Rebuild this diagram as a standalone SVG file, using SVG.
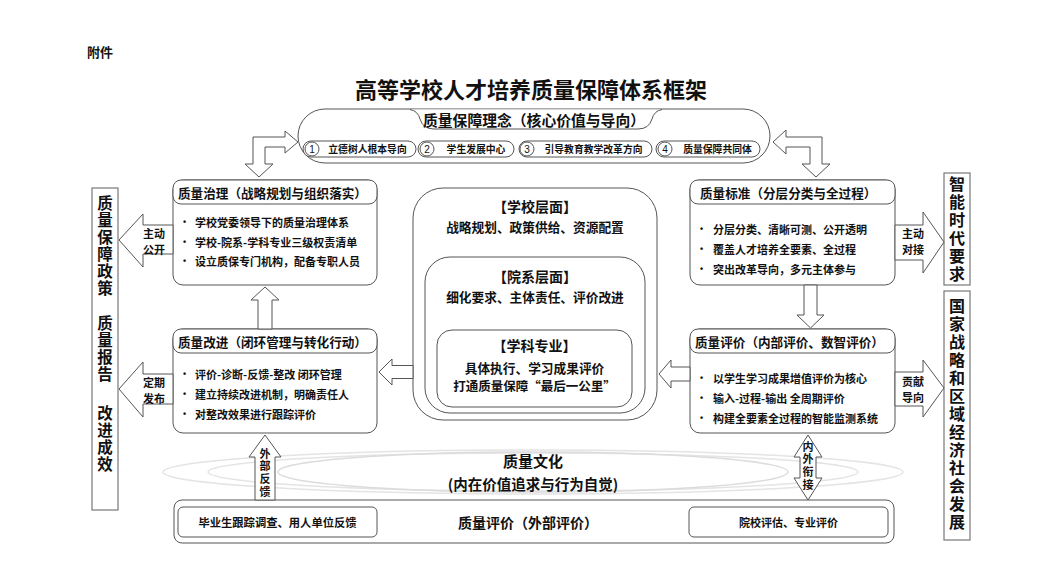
<svg xmlns="http://www.w3.org/2000/svg" width="1062" height="583" viewBox="0 0 1062 583">
<defs>
<style>
text{font-family:"Noto Sans CJK SC","Noto Sans",sans-serif;font-weight:bold;fill:#111;dominant-baseline:central}
.box{fill:#fff;stroke:#555;stroke-width:1}
.bar{fill:#fff;stroke:#777;stroke-width:1.2}
.arr{fill:#fff;stroke:#555;stroke-width:1;stroke-linejoin:miter}
.hd{font-size:12.6px}
.bl{font-size:11px}
.dot{font-family:"Liberation Sans",sans-serif;font-size:9px}
.lab{font-size:11px;text-anchor:middle}
.v{writing-mode:vertical-rl;text-orientation:upright;dominant-baseline:auto}
.vt{font-size:15.5px;letter-spacing:1.5px}
.vt2{font-size:16px}
.vl{font-size:11px;letter-spacing:1.8px}
.mid{text-anchor:middle}
.pill{fill:#fff;stroke:#555;stroke-width:1}
.num{font-family:"Liberation Sans",sans-serif;font-weight:normal;font-size:10px;text-anchor:middle}
.sp{font-size:9.8px;text-anchor:middle}
.ell{fill:none;stroke:#e4e4e4;stroke-width:1.5}
</style>
</defs>
<rect width="1062" height="583" fill="#fff"/>
<text x="87" y="51" style="font-size:13px">附件</text>
<text x="531" y="88" class="mid" style="font-size:22px">高等学校人才培养质量保障体系框架</text>

<g id="concept">
<rect x="298" y="109" width="472" height="54" rx="27" class="pill"/>
<path d="M410,109.5 Q418,111 420,119 Q423,129 434,129 L638,129 Q649,129 652,119 Q654,111 662,109.5" class="pill"/>
<text x="534" y="119" class="mid" style="font-size:14.8px">质量保障理念（核心价值与导向）</text>
<rect x="303" y="141" width="113" height="16" rx="8" class="pill"/>
<circle cx="312" cy="149" r="7" class="pill"/>
<text x="312" y="149" class="num">1</text>
<text x="367.5" y="149" class="sp">立德树人根本导向</text>
<rect x="418" y="141" width="96" height="16" rx="8" class="pill"/>
<circle cx="427" cy="149" r="7" class="pill"/>
<text x="427" y="149" class="num">2</text>
<text x="476" y="149" class="sp">学生发展中心</text>
<rect x="519" y="141" width="133" height="16" rx="8" class="pill"/>
<circle cx="527" cy="149" r="7" class="pill"/>
<text x="527" y="149" class="num">3</text>
<text x="593.5" y="149" class="sp">引导教育教学改革方向</text>
<rect x="656" y="141" width="104" height="16" rx="8" class="pill"/>
<circle cx="665" cy="149" r="7" class="pill"/>
<text x="665" y="149" class="num">4</text>
<text x="717.5" y="149" class="sp">质量保障共同体</text>
</g>

<g id="governance">
<rect x="173" y="180" width="204" height="105" rx="10" class="box"/>
<rect x="173" y="180" width="204" height="24" rx="8" class="box"/>
<text x="178" y="192" class="hd">质量治理（战略规划与组织落实）</text>
<text x="183" y="222" class="dot">•</text><text x="195" y="222" class="bl">学校党委领导下的质量治理体系</text>
<text x="183" y="242" class="dot">•</text><text x="195" y="242" class="bl">学校-院系-学科专业三级权责清单</text>
<text x="183" y="261" class="dot">•</text><text x="195" y="261" class="bl">设立质保专门机构，配备专职人员</text>
</g>

<g id="improvement">
<rect x="173" y="329" width="204" height="104" rx="10" class="box"/>
<rect x="173" y="329" width="204" height="24" rx="8" class="box"/>
<text x="178" y="341" class="hd">质量改进（闭环管理与转化行动）</text>
<text x="183" y="374" class="dot">•</text><text x="195" y="374" class="bl">评价-诊断-反馈-整改  闭环管理</text>
<text x="183" y="394" class="dot">•</text><text x="195" y="394" class="bl">建立持续改进机制，明确责任人</text>
<text x="183" y="414" class="dot">•</text><text x="195" y="414" class="bl">对整改效果进行跟踪评价</text>
</g>

<g id="standard">
<rect x="690" y="180" width="205" height="105" rx="10" class="box"/>
<rect x="690" y="180" width="205" height="24" rx="8" class="box"/>
<text x="700" y="192" class="hd">质量标准（分层分类与全过程）</text>
<text x="700" y="229" class="dot">•</text><text x="713" y="229" class="bl">分层分类、清晰可测、公开透明</text>
<text x="700" y="249" class="dot">•</text><text x="713" y="249" class="bl">覆盖人才培养全要素、全过程</text>
<text x="700" y="269" class="dot">•</text><text x="713" y="269" class="bl">突出改革导向，多元主体参与</text>
</g>

<g id="evaluation-internal">
<rect x="690" y="329" width="205" height="104" rx="10" class="box"/>
<rect x="690" y="329" width="205" height="24" rx="8" class="box"/>
<text x="695" y="341" class="hd">质量评价（内部评价、数智评价）</text>
<text x="700" y="378" class="dot">•</text><text x="713" y="378" class="bl">以学生学习成果增值评价为核心</text>
<text x="700" y="398" class="dot">•</text><text x="713" y="398" class="bl">输入-过程-输出  全周期评价</text>
<text x="700" y="418" class="dot">•</text><text x="713" y="418" class="bl">构建全要素全过程的智能监测系统</text>
</g>

<g id="levels">
<rect x="413" y="188" width="244" height="232" rx="30" class="box"/>
<text x="535" y="206" class="mid" style="font-size:14px">【学校层面】</text>
<text x="535" y="226" class="mid" style="font-size:12.7px">战略规划、政策供给、资源配置</text>
<rect x="425" y="257" width="220" height="156" rx="25" class="box"/>
<text x="535" y="276" class="mid" style="font-size:14px">【院系层面】</text>
<text x="535" y="296" class="mid" style="font-size:12.7px">细化要求、主体责任、评价改进</text>
<rect x="437" y="330" width="195" height="77" rx="15" class="box"/>
<text x="534.5" y="345" class="mid" style="font-size:14px">【学科专业】</text>
<text x="534.5" y="367" class="mid" style="font-size:12.7px">具体执行、学习成果评价</text>
<text x="534.5" y="385" class="mid" style="font-size:12.5px">打通质量保障“最后一公里”</text>
</g>

<g id="bar-left">
<rect x="92" y="188" width="26" height="322" class="bar"/>
<text x="105" y="195" class="v vt">质量保障政策</text>
<text x="105" y="315" class="v vt">质量报告</text>
<text x="105" y="405" class="v vt">改进成效</text>
</g>

<g id="bar-right-1">
<rect x="944" y="173" width="26" height="112" class="bar"/>
<text x="957" y="176" class="v vt2" style="letter-spacing:2px">智能时代要求</text>
</g>

<g id="bar-right-2">
<rect x="944" y="291" width="26" height="249" class="bar"/>
<text x="957" y="298" class="v vt2" style="letter-spacing:2px">国家战略和区域经济社会发展</text>
</g>

<g id="culture">
<ellipse cx="533" cy="472" rx="370" ry="22" class="ell"/>
<ellipse cx="533" cy="472" rx="325" ry="19" class="ell"/>
<ellipse cx="533" cy="472" rx="255" ry="20" class="ell" style="stroke:#dcdcdc"/>
<text x="533" y="460" class="mid" style="font-size:15px">质量文化</text>
<text x="533" y="483" class="mid" style="font-size:14.5px">(内在价值追求与行为自觉)</text>
</g>

<g id="external">
<rect x="174" y="500" width="720" height="43" rx="8" class="box"/>
<rect x="178" y="507" width="199" height="30" rx="5" class="box"/>
<text x="277.5" y="522" class="mid" style="font-size:11.3px">毕业生跟踪调查、用人单位反馈</text>
<text x="528" y="522" class="mid" style="font-size:14px">质量评价（外部评价）</text>
<rect x="689" y="507" width="199" height="30" rx="5" class="box"/>
<text x="788.5" y="522" class="mid" style="font-size:11px">院校评估、专业评价</text>
</g>

<g id="connectors">
<polygon class="arr" points="298,142 285,131 285,137 253,137 253,164 245,164 259,177 273,164 265,164 265,147 285,147 285,153"/>
<polygon class="arr" points="773,142 786,130 786,137 822,137 822,164 830,164 816,177 802,164 810,164 810,147 786,147 786,154"/>
<polygon class="arr" points="265,287 279,300 272,300 272,329 258,329 258,300 251,300"/>
<polygon class="arr" points="810.5,328 824,315 817,315 817,285 804,285 804,315 797,315"/>
<polygon class="arr" points="379,372 392,359 392,365.5 413,365.5 413,378.5 392,378.5 392,385"/>
<polygon class="arr" points="659,374 671,360 671,367 690,367 690,381 671,381 671,388"/>
<polygon class="arr" points="119,240 143,214 143,225 173,225 173,254 143,254 143,267"/>
<text x="154" y="233" class="lab">主动</text><text x="154" y="249" class="lab">公开</text>
<polygon class="arr" points="119,389 143,362 143,374 173,374 173,404 143,404 143,417"/>
<text x="154" y="382" class="lab">定期</text><text x="154" y="398" class="lab">发布</text>
<polygon class="arr" points="944,242 923,212 923,225 895,225 895,260 923,260 923,273"/>
<text x="913" y="233" class="lab">主动</text><text x="913" y="249" class="lab">对接</text>
<polygon class="arr" points="944,388 923,360 923,372 895,372 895,406 923,406 923,417"/>
<text x="913" y="381" class="lab">贡献</text><text x="913" y="397" class="lab">导向</text>
<polygon class="arr" points="265,435 281,457 275,457 275,500 255,500 255,457 249,457"/>
<text x="265" y="448" class="v vl">外部反馈</text>
<polygon class="arr" points="808,435 822,457 816,457 816,478 822,478 808,500 794,478 800,478 800,457 794,457"/>
<text x="808" y="441" class="v vl">内外衔接</text>
</g>
</svg>
